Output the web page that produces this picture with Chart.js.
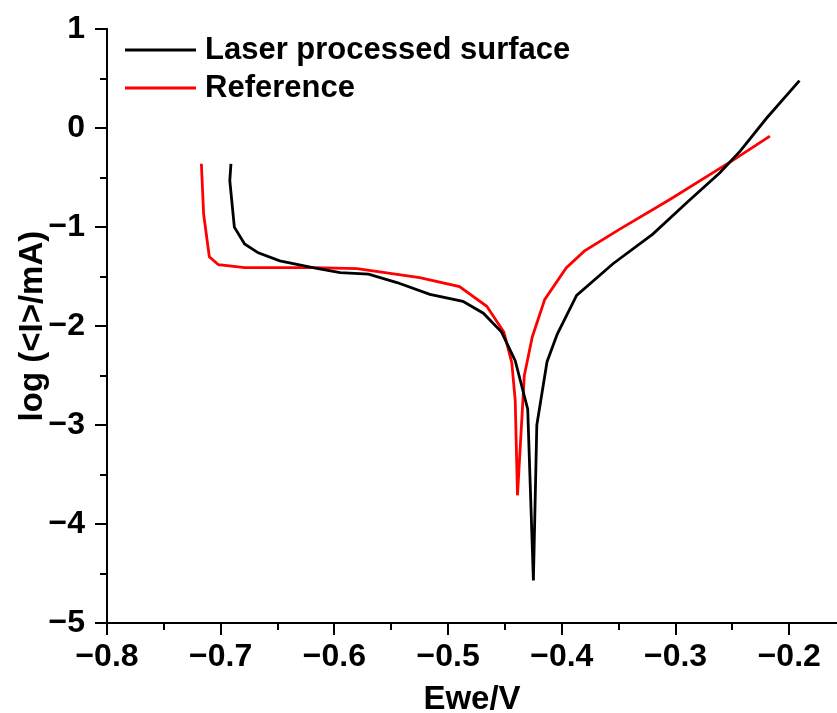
<!DOCTYPE html>
<html>
<head>
<meta charset="utf-8">
<script src="https://cdn.jsdelivr.net/npm/chart.js@4/dist/chart.umd.min.js"></script>
<style>
  html, body { margin: 0; padding: 0; background: #fff; }
  #wrap { width: 837px; height: 713px; }
</style>
</head>
<body>
<div id="wrap"><canvas id="tafel"></canvas></div>
<script>
// Tafel curves (potential in V, log current)
var laserX = [-0.691, -0.692, -0.688, -0.679, -0.667, -0.648, -0.619, -0.595, -0.570, -0.545, -0.516, -0.487, -0.469, -0.453, -0.441, -0.430, -0.425, -0.422, -0.413, -0.404, -0.387, -0.355, -0.320, -0.289, -0.261, -0.243, -0.220, -0.191];
var laserY = [-0.36, -0.53, -1.00, -1.17, -1.26, -1.34, -1.41, -1.46, -1.475, -1.56, -1.68, -1.75, -1.87, -2.06, -2.35, -2.84, -4.57, -3.00, -2.36, -2.08, -1.69, -1.37, -1.07, -0.74, -0.45, -0.23, 0.10, 0.48];

var refX = [-0.717, -0.715, -0.710, -0.702, -0.679, -0.619, -0.580, -0.525, -0.490, -0.466, -0.451, -0.444, -0.441, -0.439, -0.433, -0.426, -0.415, -0.396, -0.380, -0.349, -0.305, -0.249, -0.217];
var refY = [-0.36, -0.87, -1.30, -1.38, -1.41, -1.41, -1.42, -1.51, -1.60, -1.80, -2.06, -2.37, -2.75, -3.71, -2.50, -2.11, -1.73, -1.41, -1.24, -1.02, -0.72, -0.32, -0.08];

var seriesNames = ['Laser processed surface', 'Reference'];
var seriesColors = ['#000000', '#ff0000'];

var xTicks = [-0.8, -0.7, -0.6, -0.5, -0.4, -0.3, -0.2];
var yTicks = [-5, -4, -3, -2, -1, 0, 1];

function pairs(xs, ys) {
  return xs.map(function (x, i) { return { x: x, y: ys[i] }; });
}

function fmt(v, d) {
  var s = Math.abs(v).toFixed(d);
  return v < -1e-9 ? '\u2212' + s : s;
}

var FONT = 'Liberation Sans, Arial, sans-serif';

// small ticks half way between the labelled ones
var minorTicks = {
  id: 'minorTicks',
  afterDraw: function (chart) {
    var ctx = chart.ctx, xs = chart.scales.x, ys = chart.scales.y;
    ctx.save();
    ctx.strokeStyle = '#000';
    ctx.lineWidth = 2;
    ctx.beginPath();
    for (var i = 0; i < xTicks.length; i++) {
      var v = xTicks[i] + 0.05;
      if (v > xs.max) break;
      var px = Math.round(xs.getPixelForValue(v));
      ctx.moveTo(px, xs.top);
      ctx.lineTo(px, xs.top + 7);
    }
    for (var j = 0; j < yTicks.length - 1; j++) {
      var py = Math.round(ys.getPixelForValue(yTicks[j] + 0.5));
      ctx.moveTo(ys.right, py);
      ctx.lineTo(ys.right - 7, py);
    }
    ctx.stroke();
    ctx.restore();
  }
};

// legend sitting inside the plot, top left
var innerLegend = {
  id: 'innerLegend',
  afterDraw: function (chart) {
    var ctx = chart.ctx;
    ctx.save();
    ctx.font = 'bold 31px ' + FONT;
    ctx.textBaseline = 'middle';
    seriesNames.forEach(function (name, i) {
      var y = 50 + i * 38;
      ctx.strokeStyle = seriesColors[i];
      ctx.lineWidth = 2.8;
      ctx.beginPath();
      ctx.moveTo(125, y);
      ctx.lineTo(196, y);
      ctx.stroke();
      ctx.fillStyle = '#000';
      ctx.fillText(name, 205, y);
    });
    ctx.restore();
  }
};

new Chart(document.getElementById('tafel'), {
  type: 'scatter',
  data: {
    datasets: [
      { label: seriesNames[0], data: pairs(laserX, laserY), showLine: true, borderColor: seriesColors[0], borderWidth: 2.8, pointRadius: 0, tension: 0 },
      { label: seriesNames[1], data: pairs(refX, refY), showLine: true, borderColor: seriesColors[1], borderWidth: 2.8, pointRadius: 0, tension: 0 }
    ]
  },
  options: {
    responsive: true,
    maintainAspectRatio: false,
    animation: false,
    layout: { padding: { top: 28, right: 0, left: 0, bottom: 0 } },
    plugins: { legend: { display: false }, tooltip: { enabled: false } },
    scales: {
      x: {
        type: 'linear',
        min: -0.8,
        max: -0.158,
        afterFit: function (s) { s.height = 90; },
        afterBuildTicks: function (s) { s.ticks = xTicks.map(function (v) { return { value: v }; }); },
        border: { color: '#000', width: 2 },
        grid: { drawOnChartArea: false, color: '#000', lineWidth: 2, tickLength: 12 },
        ticks: {
          color: '#000', padding: 3, maxRotation: 0, autoSkip: false,
          font: { family: FONT, size: 32, weight: 'bold' },
          callback: function (v) { return fmt(v, 1); }
        },
        title: {
          display: true, text: 'Ewe/V', color: '#000',
          font: { family: FONT, size: 33, weight: 'bold', lineHeight: 1 },
          padding: { top: 0, bottom: -3 }
        }
      },
      y: {
        type: 'linear',
        min: -5,
        max: 1,
        afterFit: function (s) { s.width = 107; },
        afterBuildTicks: function (s) { s.ticks = yTicks.map(function (v) { return { value: v }; }); },
        border: { color: '#000', width: 2 },
        grid: { drawOnChartArea: false, color: '#000', lineWidth: 2, tickLength: 12 },
        ticks: {
          color: '#000', padding: 10, autoSkip: false,
          font: { family: FONT, size: 32, weight: 'bold' },
          callback: function (v) { return fmt(v, 0); }
        },
        title: {
          display: true, text: 'log (<I>/mA)', color: '#000',
          font: { family: FONT, size: 33, weight: 'bold', lineHeight: 1 },
          padding: { top: 16, bottom: 0 }
        }
      }
    }
  },
  plugins: [minorTicks, innerLegend]
});
</script>
</body>
</html>
